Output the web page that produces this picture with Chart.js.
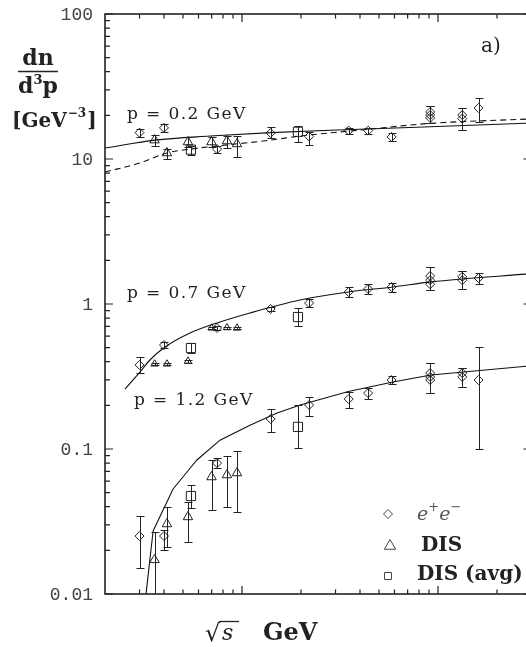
<!DOCTYPE html>
<html>
<head>
<meta charset="utf-8">
<script src="https://cdn.jsdelivr.net/npm/chart.js@4.4.1/dist/chart.umd.min.js"></script>
<style>
  html, body { margin: 0; padding: 0; background: #fff; overflow: hidden; }
  canvas { display: block; }
</style>
</head>
<body>
<canvas id="graphic" width="540" height="647"></canvas>
<script>
// sqrt(s) in GeV for each experiment type
const xEe = [3.0, 4.0, 7.46, 14, 22, 35, 44, 58, 91.2, 91.2, 91.2, 133, 133, 161]
const xDis = [3.58, 4.14, 5.30, 6.99, 8.38, 9.43]
const xAvg = [5.49, 19.3]

// p = 0.2 GeV
const ee02 = [15.2, 16.4, 11.7, 15.1, 14.3, 15.7, 15.7, 14.2, 21.1, 20.1, 19.2, 20.1, 19.0, 22.5]
const ee02Lo = [14.2, 15.4, 11.0, 14.0, 12.5, 14.9, 14.9, 13.3, 17.7, 17.7, 17.7, 15.8, 15.8, 18.0]
const ee02Hi = [16.1, 17.4, 12.3, 16.6, 15.4, 16.4, 16.4, 15.1, 23.2, 23.2, 23.2, 22.5, 22.5, 26.3]
const dis02 = [13.5, 11.0, 13.1, 13.1, 13.3, 12.7]
const dis02Lo = [12.3, 10.0, 12.1, 12.1, 11.9, 10.3]
const dis02Hi = [14.6, 11.7, 14.2, 14.2, 14.4, 14.4]
const avg02 = [11.6, 15.4]
const avg02Lo = [10.7, 13.1]
const avg02Hi = [12.3, 16.9]

// p = 0.7 GeV
const ee07 = [0.380, 0.521, 0.683, 0.924, 1.016, 1.21, 1.27, 1.31, 1.56, 1.46, 1.37, 1.54, 1.46, 1.51]
const ee07Lo = [0.334, 0.497, 0.665, 0.895, 0.953, 1.12, 1.17, 1.21, 1.25, 1.25, 1.25, 1.27, 1.27, 1.37]
const ee07Hi = [0.431, 0.547, 0.702, 0.955, 1.083, 1.31, 1.37, 1.40, 1.80, 1.80, 1.80, 1.69, 1.69, 1.64]
const dis07 = [0.386, 0.386, 0.404, 0.683, 0.687, 0.683]
const dis07Lo = [0.378, 0.378, 0.394, 0.672, 0.676, 0.672]
const dis07Hi = [0.394, 0.394, 0.414, 0.694, 0.698, 0.694]
const avg07 = [0.497, 0.813]
const avg07Lo = [0.459, 0.705]
const avg07Hi = [0.538, 0.938]

// p = 1.2 GeV
const ee12 = [0.0251, 0.0251, 0.0800, 0.161, 0.201, 0.221, 0.243, 0.299, 0.334, 0.314, 0.299, 0.334, 0.314, 0.299]
const ee12Lo = [0.0151, 0.0201, 0.0740, 0.131, 0.169, 0.192, 0.221, 0.281, 0.243, 0.243, 0.243, 0.268, 0.268, 0.100]
const ee12Hi = [0.0345, 0.0276, 0.0867, 0.189, 0.228, 0.247, 0.263, 0.319, 0.392, 0.392, 0.392, 0.362, 0.362, 0.505]
const dis12 = [0.0172, 0.0304, 0.0340, 0.0641, 0.0662, 0.0683]
const dis12Lo = [0.005, 0.0211, 0.0228, 0.0380, 0.0398, 0.0368]
const dis12Hi = [0.0268, 0.0398, 0.0431, 0.0840, 0.0895, 0.0968]
const avg12 = [0.0474, 0.142]
const avg12Lo = [0.0392, 0.1016]
const avg12Hi = [0.0565, 0.201]

// model curves
const curve02X = [2, 3.6, 6.87, 14.06, 43.4, 91, 300]
const curve02Y = [11.9, 13.5, 14.4, 15.2, 16.1, 16.7, 17.7]
const curve02DashX = [2, 3.02, 4.14, 5.43, 7.46, 14.06, 19.8, 43.4, 91, 300]
const curve02DashY = [8.13, 9.4, 11.0, 11.7, 12.3, 13.5, 14.4, 16.0, 17.6, 18.9]
const curve07X = [2.53, 3.02, 3.39, 4.05, 5.43, 7.46, 10.98, 19.8, 34.9, 58.9, 92.1, 300]
const curve07Y = [0.259, 0.340, 0.411, 0.505, 0.631, 0.740, 0.867, 1.065, 1.21, 1.31, 1.42, 1.62]
const curve12X = [3.21, 3.52, 4.45, 5.24, 5.89, 7.72, 10.98, 15.1, 19.8, 34.9, 58.9, 92.1, 300]
const curve12Y = [0.009, 0.0272, 0.053, 0.0694, 0.084, 0.115, 0.146, 0.177, 0.201, 0.249, 0.290, 0.324, 0.375]

// axes
const xRange = [2, 300]
const yRange = [0.01, 100]
const xTicksMajor = [10, 100]
const xTicksMinor = [3, 4, 5, 6, 7, 8, 9, 20, 30, 40, 50, 60, 70, 80, 90, 200]
const yTicks = [100, 10, 1, 0.1, 0.01]
const yTickLabels = ['100', '10', '1', '0.1', '0.01']

const INK = '#222'

const toPoints = (xs, ys) => xs.map((x, i) => ({x, y: ys[i]}))

const markerSet = (xs, ys, lo, hi, style, radius) => ({
  data: toPoints(xs, ys),
  errLo: lo,
  errHi: hi,
  showLine: false,
  pointStyle: style,
  pointRadius: radius,
  pointBorderWidth: 1,
  pointBorderColor: INK,
  pointBackgroundColor: 'rgba(0,0,0,0)'
})

const curveSet = (xs, ys, dash, smooth = true) => ({
  data: toPoints(xs, ys),
  showLine: true,
  borderColor: '#111',
  borderWidth: 1.1,
  borderDash: dash || [],
  pointRadius: 0,
  tension: 0,
  cubicInterpolationMode: smooth ? 'monotone' : 'default'
})

const errorBars = {
  id: 'errorBars',
  afterDatasetsDraw(chart) {
    const {ctx, chartArea, scales: {y}} = chart
    ctx.save()
    ctx.beginPath()
    ctx.rect(chartArea.left, chartArea.top, chartArea.right - chartArea.left, chartArea.bottom - chartArea.top)
    ctx.clip()
    ctx.strokeStyle = INK
    ctx.lineWidth = 1
    chart.data.datasets.forEach((ds, i) => {
      if (!ds.errLo) return
      chart.getDatasetMeta(i).data.forEach((pt, j) => {
        const px = Math.round(pt.x) + 0.5
        const top = Math.round(y.getPixelForValue(ds.errHi[j])) + 0.5
        const bottom = Math.round(y.getPixelForValue(ds.errLo[j])) + 0.5
        ctx.beginPath()
        ctx.moveTo(px, top); ctx.lineTo(px, bottom)
        ctx.moveTo(px - 4, top); ctx.lineTo(px + 4, top)
        ctx.moveTo(px - 4, bottom); ctx.lineTo(px + 4, bottom)
        ctx.stroke()
      })
    })
    ctx.restore()
  }
}

const textAt = (ctx, str, x, y, font, opts = {}) => {
  ctx.font = font
  ctx.fillStyle = opts.color || INK
  ctx.textAlign = opts.align || 'left'
  ctx.textBaseline = opts.baseline || 'alphabetic'
  ctx.letterSpacing = opts.spacing || '0px'
  ctx.fillText(str, x, y)
  const w = ctx.measureText(str).width
  ctx.letterSpacing = '0px'
  return w
}

const frameAndText = {
  id: 'frameAndText',
  afterDraw(chart) {
    const {ctx, chartArea: a, scales: {x, y}} = chart
    ctx.save()

    // frame
    ctx.strokeStyle = INK
    ctx.lineWidth = 1.6
    ctx.strokeRect(a.left, a.top, a.right - a.left, a.bottom - a.top)

    // inward ticks
    ctx.lineWidth = 1.2
    ctx.beginPath()
    const yMinor = []
    yTicks.slice(1).forEach(d => { for (let m = 2; m <= 9; m++) yMinor.push(m * d) })
    yTicks.forEach(v => {
      const py = y.getPixelForValue(v)
      ctx.moveTo(a.left, py); ctx.lineTo(a.left + 8, py)
      ctx.moveTo(a.right, py); ctx.lineTo(a.right - 8, py)
    })
    yMinor.forEach(v => {
      const py = y.getPixelForValue(v)
      ctx.moveTo(a.left, py); ctx.lineTo(a.left + 5, py)
      ctx.moveTo(a.right, py); ctx.lineTo(a.right - 5, py)
    })
    xTicksMajor.forEach(v => {
      const px = x.getPixelForValue(v)
      ctx.moveTo(px, a.bottom); ctx.lineTo(px, a.bottom - 8)
      ctx.moveTo(px, a.top); ctx.lineTo(px, a.top + 8)
    })
    xTicksMinor.forEach(v => {
      const px = x.getPixelForValue(v)
      ctx.moveTo(px, a.bottom); ctx.lineTo(px, a.bottom - 4.5)
      ctx.moveTo(px, a.top); ctx.lineTo(px, a.top + 4.5)
    })
    ctx.stroke()

    // y tick labels
    yTicks.forEach((v, i) => {
      textAt(ctx, yTickLabels[i], 93, y.getPixelForValue(v) + 1, '18px "Liberation Mono"',
        {align: 'right', baseline: 'middle', color: '#444'})
    })

    // y axis title
    const bold22 = 'bold 22px "DejaVu Serif"'
    textAt(ctx, 'dn', 38, 65, bold22, {align: 'center'})
    ctx.lineWidth = 1.5
    ctx.beginPath(); ctx.moveTo(18, 71.5); ctx.lineTo(58, 71.5); ctx.stroke()
    let cx = 18
    cx += textAt(ctx, 'd', cx, 93, bold22)
    cx += textAt(ctx, '3', cx, 84, 'bold 13px "DejaVu Serif"')
    textAt(ctx, 'p', cx, 93, bold22)
    cx = 12
    cx += textAt(ctx, '[GeV', cx, 127, 'bold 20px "DejaVu Serif"')
    cx += textAt(ctx, '\u22123', cx + 1, 117, 'bold 12px "DejaVu Serif"') + 2
    textAt(ctx, ']', cx, 127, 'bold 20px "DejaVu Serif"')

    // curve labels
    const lbl = '17px "DejaVu Serif"'
    textAt(ctx, 'p = 0.2 GeV', 127, 119, lbl, {spacing: '1.4px'})
    textAt(ctx, 'p = 0.7 GeV', 127, 298, lbl, {spacing: '1.4px'})
    textAt(ctx, 'p = 1.2 GeV', 134, 405, lbl, {spacing: '1.4px'})
    textAt(ctx, 'a)', 481, 52, '20px "DejaVu Serif"')

    // legend
    const draw = Chart.helpers.drawPoint
    ctx.strokeStyle = '#444'
    ctx.fillStyle = 'rgba(0,0,0,0)'
    ctx.lineWidth = 1
    draw(ctx, {pointStyle: 'rectRot', radius: 4.5, borderWidth: 1}, 388, 514)
    draw(ctx, {pointStyle: 'triangle', radius: 6.5, borderWidth: 1}, 390, 546)
    draw(ctx, {pointStyle: 'rect', radius: 5, borderWidth: 1}, 388, 576)
    cx = 417
    cx += textAt(ctx, 'e', cx, 520, 'italic 19px "DejaVu Serif"', {color: '#555'})
    cx += textAt(ctx, '+', cx, 511, '13px "DejaVu Serif"', {color: '#555'})
    cx += textAt(ctx, 'e', cx, 520, 'italic 19px "DejaVu Serif"', {color: '#555'})
    textAt(ctx, '\u2212', cx, 511, '13px "DejaVu Serif"', {color: '#555'})
    textAt(ctx, 'DIS', 421, 551, 'bold 20px "DejaVu Serif"')
    textAt(ctx, 'DIS (avg)', 417, 580, 'bold 20px "DejaVu Serif"')

    // x axis title
    const rw = textAt(ctx, '\u221A', 205, 641, '24px "DejaVu Serif"')
    textAt(ctx, 's', 222, 640, 'italic 22px "DejaVu Serif"')
    ctx.strokeStyle = INK
    ctx.lineWidth = 1.3
    ctx.beginPath(); ctx.moveTo(205 + rw - 1, 621.5); ctx.lineTo(239, 621.5); ctx.stroke()
    textAt(ctx, 'GeV', 263, 640, 'bold 24px "DejaVu Serif"')

    ctx.restore()
  }
}

new Chart(document.querySelector('#graphic'), {
  type: 'scatter',
  data: {
    datasets: [
      curveSet(curve02X, curve02Y),
      curveSet(curve02DashX, curve02DashY, [6, 4]),
      curveSet(curve07X, curve07Y),
      curveSet(curve12X, curve12Y, null, false),
      markerSet(xEe, ee02, ee02Lo, ee02Hi, 'rectRot', 4.5),
      markerSet(xDis, dis02, dis02Lo, dis02Hi, 'triangle', 5.5),
      markerSet(xAvg, avg02, avg02Lo, avg02Hi, 'rect', 6.5),
      markerSet(xEe, ee07, ee07Lo, ee07Hi, 'rectRot', 4.5),
      markerSet(xDis, dis07, dis07Lo, dis07Hi, 'triangle', 4.2),
      markerSet(xAvg, avg07, avg07Lo, avg07Hi, 'rect', 6.5),
      markerSet(xEe, ee12, ee12Lo, ee12Hi, 'rectRot', 4.5),
      markerSet(xDis, dis12, dis12Lo, dis12Hi, 'triangle', 5.5),
      markerSet(xAvg, avg12, avg12Lo, avg12Hi, 'rect', 6.5)
    ]
  },
  options: {
    responsive: false,
    animation: false,
    devicePixelRatio: 1,
    layout: { padding: { left: 105, top: 14, right: 8.5, bottom: 53 } },
    plugins: { legend: { display: false }, tooltip: { enabled: false } },
    scales: {
      x: { type: 'logarithmic', min: xRange[0], max: xRange[1], display: false },
      y: { type: 'logarithmic', min: yRange[0], max: yRange[1], display: false }
    }
  },
  plugins: [errorBars, frameAndText]
})
</script>
</body>
</html>
